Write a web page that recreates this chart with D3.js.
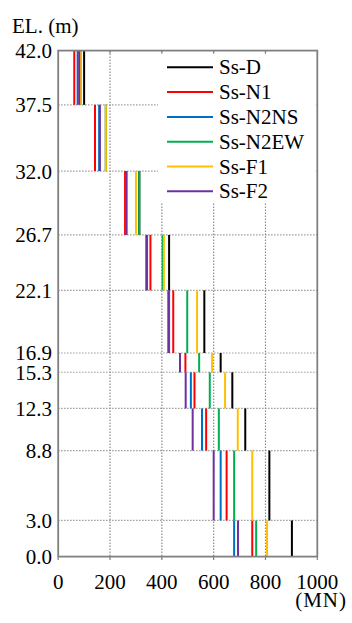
<!DOCTYPE html>
<html>
<head>
<meta charset="utf-8">
<script src="https://cdn.jsdelivr.net/npm/d3@7"></script>
<style>
html,body{margin:0;padding:0;background:#fff;}
svg{display:block;}
</style>
</head>
<body>
<svg id="chart" width="352" height="623"></svg>
<script>
// Segment boundaries (elevation, m), top to bottom
const elevations = [42.0, 37.5, 32.0, 26.7, 22.1, 16.9, 15.3, 12.3, 8.8, 3.0, 0.0];
const xTicks = [0, 200, 400, 600, 800, 1000];
const seriesNames = ["Ss-D", "Ss-N1", "Ss-N2NS", "Ss-N2EW", "Ss-F1", "Ss-F2"];
const seriesColors = ["#000000", "#ff0000", "#0070c0", "#00b050", "#ffc000", "#7030a0"];
// Values (MN) for each segment, top segment first
const ssD    = [100, 184, 313, 428, 564, 627, 672, 722, 815, 902];
const ssN1   = [62, 142, 258, 356, 444, 491, 526, 571, 650, 749];
const ssN2NS = [75, 158, 262, 343, 428, 470, 512, 555, 627, 679];
const ssN2EW = [87, 184, 313, 403, 498, 544, 585, 620, 679, 764];
const ssF1   = [87, 184, 300, 408, 536, 594, 644, 693, 749, 806];
const ssF2   = [81, 161, 264, 340, 425, 470, 492, 519, 600, 694];
const seriesValues = [ssD, ssN1, ssN2NS, ssN2EW, ssF1, ssF2];

(function () {
const svg = d3.select("#chart");
const pL = 58.2, pR = 317.3, pT = 50.6, pB = 556.6;
const x = d3.scaleLinear().domain([0, 1000]).range([pL, pR]);
const y = d3.scaleLinear().domain([0, 42]).range([pB, pT]);
const grid = "#8c8c8c";
const fam = "Liberation Serif";

// gridlines
const g = svg.append("g");
g.selectAll("line.vg").data(xTicks.filter(d => d > 0 && d < 1000)).enter().append("line")
  .attr("x1", d => x(d)).attr("x2", d => x(d)).attr("y1", pT).attr("y2", pB)
  .attr("stroke", grid).attr("stroke-width", 1.2).attr("stroke-dasharray", "1.3,1.7");
g.selectAll("line.hg").data(elevations.filter(d => d > 0 && d < 42)).enter().append("line")
  .attr("x1", pL).attr("x2", pR).attr("y1", d => y(d)).attr("y2", d => y(d))
  .attr("stroke", grid).attr("stroke-width", 1.2).attr("stroke-dasharray", "1.3,1.7");

// data
const segs = d3.range(elevations.length - 1);
seriesValues.forEach((vals, si) => {
  svg.append("g").selectAll("line").data(segs).enter().append("line")
    .attr("x1", i => x(vals[i])).attr("x2", i => x(vals[i]))
    .attr("y1", i => y(elevations[i])).attr("y2", i => y(elevations[i + 1]))
    .attr("stroke", seriesColors[si]).attr("stroke-width", 2);
});

// legend
const lg = svg.append("g");
lg.append("rect").attr("x", 158).attr("y", 54).attr("width", pR - 158 - 1).attr("height", 149).attr("fill", "#fff");
seriesNames.forEach((n, i) => {
  const yy = 67.3 + i * 24.8;
  lg.append("line").attr("x1", 167).attr("x2", 213).attr("y1", yy).attr("y2", yy)
    .attr("stroke", seriesColors[i]).attr("stroke-width", 2);
  lg.append("text").attr("x", 219).attr("y", yy + 7).attr("font-size", 21)
    .style("font-family", fam).text(n);
});

// frame
svg.append("rect").attr("x", pL).attr("y", pT).attr("width", pR - pL).attr("height", pB - pT)
  .attr("fill", "none").attr("stroke", "#808080").attr("stroke-width", 1.8);

// bottom ticks (outward) and top ticks (inward)
svg.append("g").selectAll("line").data(xTicks).enter().append("line")
  .attr("x1", d => x(d)).attr("x2", d => x(d)).attr("y1", pB).attr("y2", pB + 3.5)
  .attr("stroke", "#808080").attr("stroke-width", 1.2);
svg.append("g").selectAll("line").data(xTicks.filter(d => d > 0 && d < 1000)).enter().append("line")
  .attr("x1", d => x(d)).attr("x2", d => x(d)).attr("y1", pT).attr("y2", pT + 3)
  .attr("stroke", "#808080").attr("stroke-width", 1.2);

// x tick labels
svg.append("g").selectAll("text").data(xTicks).enter().append("text")
  .attr("x", d => x(d)).attr("y", 589).attr("text-anchor", "middle").attr("font-size", 21)
  .style("font-family", fam).text(d => d);
// y tick labels
svg.append("g").selectAll("text").data(elevations).enter().append("text")
  .attr("x", 52).attr("y", d => y(d) + 7.5).attr("text-anchor", "end").attr("font-size", 21)
  .style("font-family", fam).text(d => d.toFixed(1));

svg.append("text").attr("x", 12).attr("y", 33).attr("font-size", 21).style("font-family", fam).text("EL. (m)");
svg.append("text").attr("x", 347).attr("y", 607).attr("text-anchor", "end").attr("font-size", 21)
  .style("font-family", fam).attr("letter-spacing", 1).text("(MN)");
})();
</script>
</body>
</html>
